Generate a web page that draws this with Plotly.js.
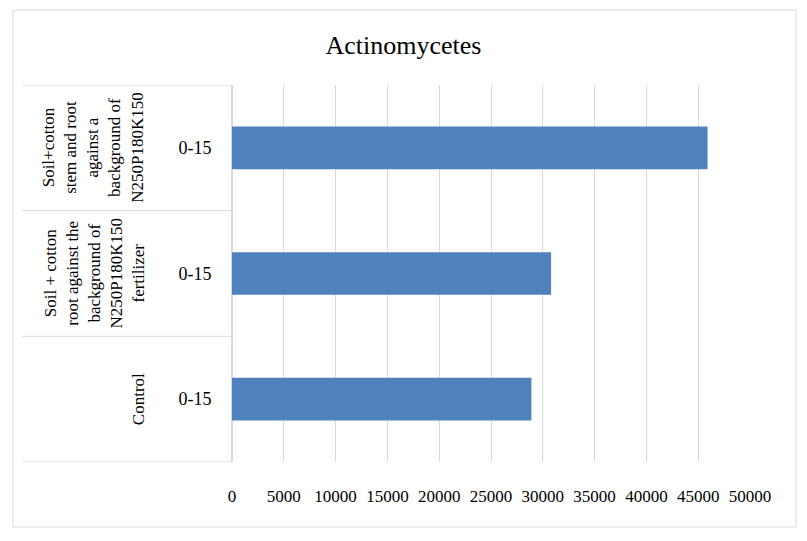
<!DOCTYPE html>
<html>
<head>
<meta charset="utf-8">
<script src="https://cdn.plot.ly/plotly-3.0.1.min.js"></script>
<style>html,body{margin:0;padding:0;background:#fff;}#chart{width:807px;height:541px;}</style>
</head>
<body>
<div id="chart"></div>
<script>
// Data
const groups = ["Control",
  "Soil + cotton root against the background of N250P180K150 fertilizer",
  "Soil+cotton stem and root against a background of N250P180K150"];
const groupLabels = ["Control",
  "Soil + cotton<br>root against the<br>background of<br>N250P180K150<br>fertilizer",
  "Soil+cotton<br>stem and root<br>against a<br>background of<br>N250P180K150"];
const depthLabels = ["0-15", "0-15", "0-15"];
const values = [28900, 30800, 45900];
const xTicks = [0, 5000, 10000, 15000, 20000, 25000, 30000, 35000, 40000, 45000, 50000];

const W = 807, H = 541;
const L = 232, R = 750, T = 85, B = 462;
const px = v => (v - L) / (R - L);
const py = v => (B - v) / (B - T);

const labelCenters = [138, 94, 93];

const serif = "'Liberation Serif', 'Times New Roman', serif";

const annotations = groups.map((g, i) => ({
  xref: 'paper', yref: 'y', x: px(labelCenters[i]), y: g,
  text: groupLabels[i], showarrow: false, textangle: -90,
  xanchor: 'center', yanchor: 'middle', align: 'center',
  font: {family: serif, size: 17, color: '#000'}
}));

const shapes = [];
// outer border
shapes.push({type: 'rect', xref: 'paper', yref: 'paper',
  x0: px(13), x1: px(796), y0: py(527), y1: py(10),
  line: {color: '#d9d9d9', width: 1}, fillcolor: 'rgba(0,0,0,0)', layer: 'below'});
// category dividers
[-0.5, 0.5, 1.5, 2.5].forEach(v => {
  shapes.push({type: 'line', xref: 'paper', yref: 'y', x0: px(22), x1: 0, y0: v, y1: v,
    line: {color: '#d9d9d9', width: 1}});
});

const trace = {
  type: 'bar', orientation: 'h', x: values, y: groups,
  marker: {color: '#4F81BD'}, width: 0.34, hoverinfo: 'x'
};

const layout = {
  width: W, height: H,
  margin: {l: L, r: W - R, t: T, b: H - B, pad: 0},
  paper_bgcolor: '#fff', plot_bgcolor: '#fff',
  showlegend: false,
  title: {text: 'Actinomycetes', font: {family: serif, size: 26, color: '#000'},
    x: 0.5, xanchor: 'center', xref: 'container', y: 1 - 45 / H, yanchor: 'middle', yref: 'container'},
  xaxis: {range: [0, 50000], tickvals: xTicks, ticktext: xTicks.map(String),
    showgrid: true, gridcolor: '#d9d9d9', gridwidth: 1,
    zeroline: true, zerolinecolor: '#d9d9d9', zerolinewidth: 1,
    showline: false, ticks: '', ticklabelstandoff: 22,
    tickfont: {family: serif, size: 17, color: '#000'}, fixedrange: true},
  yaxis: {type: 'category', categoryarray: groups, categoryorder: 'array', range: [-0.5, 2.5],
    tickvals: groups, ticktext: depthLabels,
    showgrid: false, zeroline: false, showline: true, linecolor: '#d9d9d9', linewidth: 1,
    ticks: '', ticklabelstandoff: 16,
    tickfont: {family: serif, size: 18, color: '#000'}, fixedrange: true},
  annotations: annotations,
  shapes: shapes,
  bargap: 0.66
};

Plotly.newPlot('chart', [trace], layout, {displayModeBar: false, staticPlot: true});
</script>
</body>
</html>
